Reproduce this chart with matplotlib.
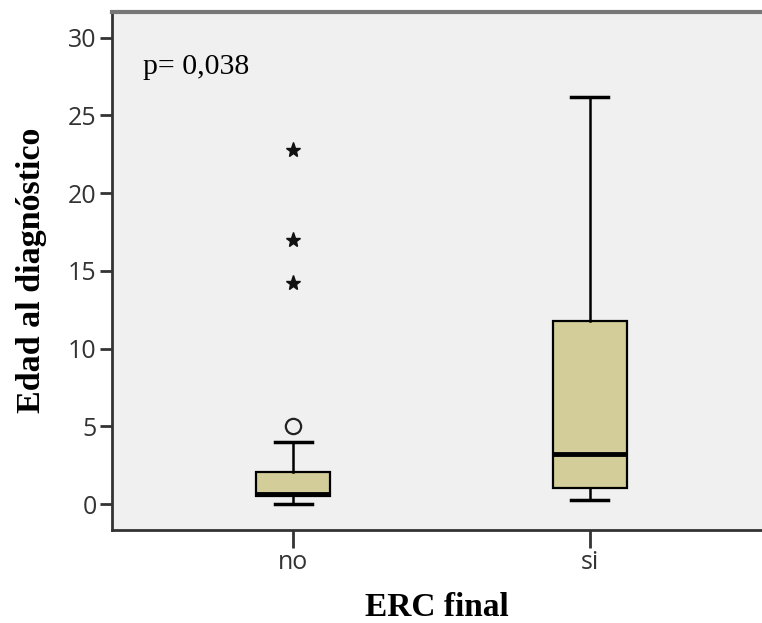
import matplotlib.pyplot as plt
import matplotlib as mpl

# groups and box statistics
groups = ['no', 'si']
q1 = [0.5, 1.07]
med = [0.65, 3.26]
q3 = [2.05, 11.8]
whis_lo = [0.0, 0.26]
whis_hi = [4.0, 26.2]
# outliers (circles) and extremes (stars)
out_no = [5.0]
ext_no = [22.8, 17.0, 14.2]
out_si = []
ext_si = []
p_text = 'p= 0,038'

box_col = '#d3ce99'

fig = plt.figure(figsize=(7.62, 6.23), dpi=100)
ax = fig.add_axes([0.147, 0.150, 0.853, 0.831])
ax.set_facecolor('#f0f0f0')

stats = []
for i in range(len(groups)):
    stats.append({'q1': q1[i], 'med': med[i], 'q3': q3[i],
                  'whislo': whis_lo[i], 'whishi': whis_hi[i], 'fliers': []})

pos = [1, 2]
bp = ax.bxp(stats, positions=pos, widths=0.25, patch_artist=True,
            showfliers=False,
            boxprops=dict(facecolor=box_col, edgecolor='black', linewidth=1.6),
            medianprops=dict(color='black', linewidth=3.5),
            whiskerprops=dict(color='black', linewidth=1.8),
            capprops=dict(color='black', linewidth=2.5),
            capwidths=0.125)

outs = [out_no, out_si]
exts = [ext_no, ext_si]
for i in range(len(groups)):
    if outs[i]:
        ax.plot([pos[i]] * len(outs[i]), outs[i], 'o', mfc='none', mec='#222222',
                mew=1.6, ms=11)
    if exts[i]:
        ax.plot([pos[i]] * len(exts[i]), exts[i], '*', color='#111111', ms=11)

ax.set_xlim(0.39, 2.58)
ax.set_ylim(-1.63, 31.66)
ax.set_yticks([0, 5, 10, 15, 20, 25, 30])
ax.set_xticks(pos)
ax.set_xticklabels(groups)

for lab in ax.get_xticklabels() + ax.get_yticklabels():
    lab.set_fontfamily('Open Sans')
    lab.set_fontsize(18)
    lab.set_color('#333333')

ax.tick_params(axis='both', direction='out', width=2, color='#333333', pad=2)
ax.tick_params(axis='y', length=9)
ax.tick_params(axis='x', length=13)

ax.spines['right'].set_visible(False)
ax.spines['left'].set_linewidth(2)
ax.spines['bottom'].set_linewidth(2)
ax.spines['left'].set_color('#333333')
ax.spines['bottom'].set_color('#333333')
ax.spines['top'].set_linewidth(3)
ax.spines['top'].set_color('#777777')

ax.set_xlabel('ERC final', fontfamily='Liberation Serif', fontweight='bold',
              fontsize=24, labelpad=12)
ax.set_ylabel('Edad al diagnóstico', fontfamily='Liberation Serif', fontweight='bold',
              fontsize=24.5, labelpad=15)

ax.text(0.048, 0.88, p_text, transform=ax.transAxes, fontfamily='Liberation Serif',
        fontsize=21.5, va='baseline', ha='left')

fig.savefig('out.png', dpi=100)
